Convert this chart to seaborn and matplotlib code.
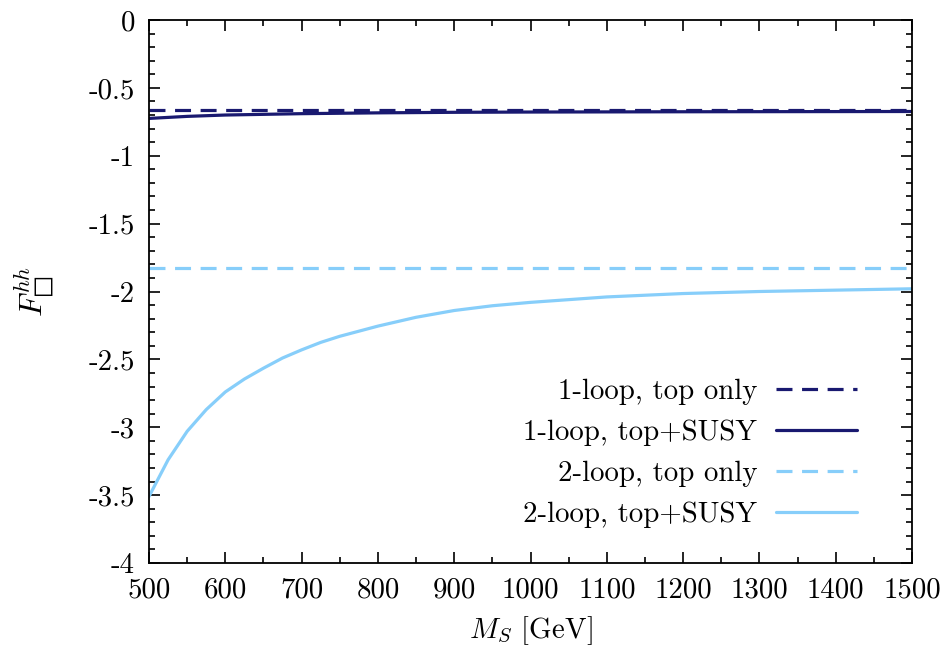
import numpy as np
import pandas as pd
import matplotlib
matplotlib.use("Agg")
import matplotlib.pyplot as plt
import seaborn as sns
from matplotlib.ticker import MultipleLocator

# ---- data ----
ms_const = [500, 1500]
one_loop_top = [-0.665, -0.665]
two_loop_top = [-1.829, -1.829]

ms_one_susy = [500, 550, 600, 700, 800, 900, 1000, 1200, 1500]
one_loop_susy = [-0.725, -0.71, -0.70, -0.69, -0.684, -0.680, -0.678, -0.676, -0.674]

ms_two_susy = [500, 525, 550, 575, 600, 625, 650, 675, 700, 725, 750, 800, 850, 900, 950,
               1000, 1100, 1200, 1300, 1400, 1500]
two_loop_susy = [-3.51, -3.24, -3.03, -2.87, -2.74, -2.645, -2.565, -2.49, -2.43, -2.375,
                 -2.33, -2.255, -2.19, -2.14, -2.105, -2.08, -2.04, -2.015, -2.0, -1.99, -1.98]

x_ticks = [500, 600, 700, 800, 900, 1000, 1100, 1200, 1300, 1400, 1500]
y_ticks = [0, -0.5, -1, -1.5, -2, -2.5, -3, -3.5, -4]
y_ticklabels = ["0", "-0.5", "-1", "-1.5", "-2", "-2.5", "-3", "-3.5", "-4"]

labels = ["1-loop, top only", "1-loop, top+SUSY", "2-loop, top only", "2-loop, top+SUSY"]
dark = "#191970"
light = "#87CEFA"

sns.set_style("ticks")
plt.rcParams["font.family"] = "serif"
plt.rcParams["font.serif"] = ["cmr10", "DejaVu Serif"]
plt.rcParams["mathtext.fontset"] = "cm"
plt.rcParams["axes.unicode_minus"] = False
plt.rcParams["axes.formatter.use_mathtext"] = True
plt.rcParams["text.color"] = "black"
plt.rcParams["axes.labelcolor"] = "black"
plt.rcParams["xtick.color"] = "black"
plt.rcParams["ytick.color"] = "black"
plt.rcParams["axes.edgecolor"] = "black"

fs = 20.8
fig = plt.figure(figsize=(9.49, 6.5), dpi=100)
ax = fig.add_axes([149 / 949, 87 / 650, 763 / 949, 543 / 650])

lw = 2.3
sns.lineplot(x=ms_const, y=one_loop_top, ax=ax, color=dark, lw=lw, label=labels[0],
             dashes=False, linestyle=(0, (5, 3)))
sns.lineplot(x=ms_one_susy, y=one_loop_susy, ax=ax, color=dark, lw=lw, label=labels[1])
sns.lineplot(x=ms_const, y=two_loop_top, ax=ax, color=light, lw=lw, label=labels[2],
             dashes=False, linestyle=(0, (5, 3)))
sns.lineplot(x=ms_two_susy, y=two_loop_susy, ax=ax, color=light, lw=lw, label=labels[3])

ax.set_xlim(500, 1500)
ax.set_ylim(-4, 0)
ax.set_xticks(x_ticks)
ax.set_xticklabels([str(t) for t in x_ticks])
ax.set_yticks(y_ticks)
ax.set_yticklabels(y_ticklabels)
ax.xaxis.set_minor_locator(MultipleLocator(50))
ax.yaxis.set_minor_locator(MultipleLocator(0.1))
ax.tick_params(which="both", direction="in", top=True, right=True, labelsize=fs, width=1.2)
ax.tick_params(which="major", length=8, pad=10)
ax.tick_params(which="minor", length=4)
for s in ax.spines.values():
    s.set_linewidth(1.3)
    s.set_visible(True)

ax.set_xlabel(r"$M_S$ [GeV]", fontsize=fs, labelpad=8)
ax.set_ylabel("$F_{\u25a1}^{hh}$", fontsize=fs + 2, labelpad=24)

leg = ax.legend(loc="lower right", bbox_to_anchor=(0.928, 0.065), frameon=False,
                markerfirst=False, fontsize=fs, handlelength=2.8, handletextpad=0.65,
                labelspacing=0.5, borderpad=0, borderaxespad=0)

fig.savefig("out.png", dpi=100)
